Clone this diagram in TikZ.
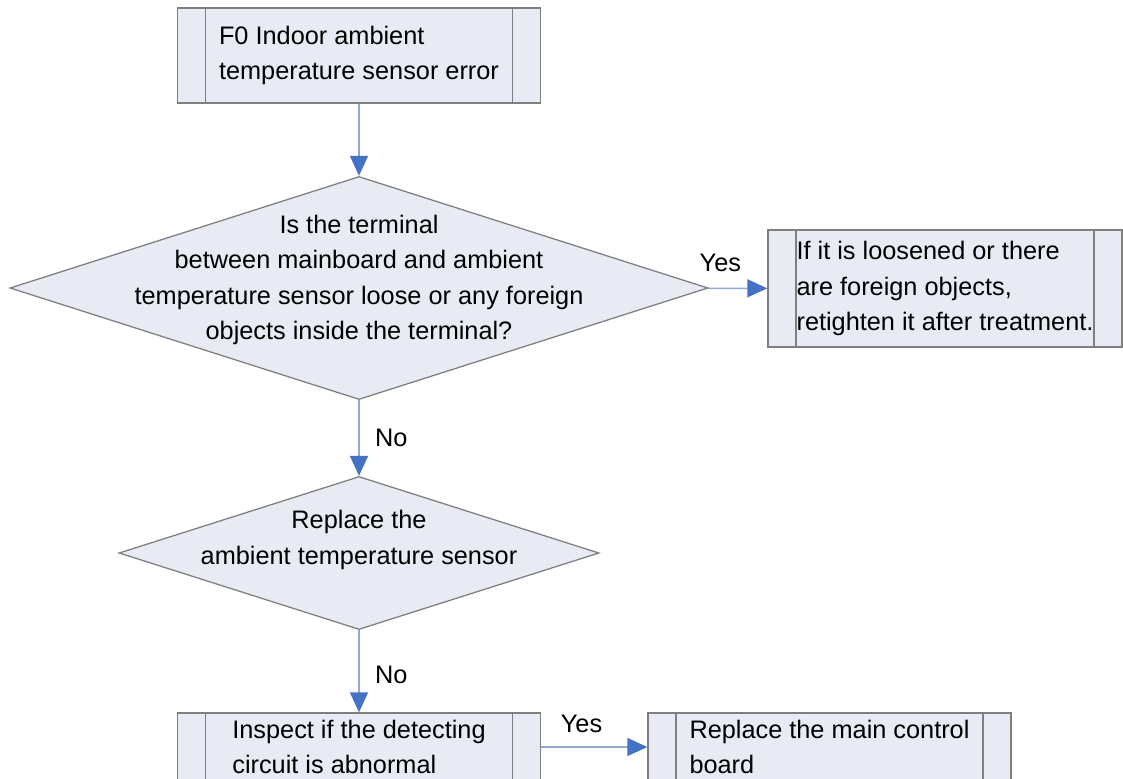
\documentclass[tikz,border=0pt]{standalone}
\usepackage{fontspec}
\setmainfont{Liberation Sans}
\usepackage{xcolor}
\definecolor{BoxFill}{HTML}{E8EBF4}
\definecolor{BoxLine}{HTML}{7F7F7F}
\definecolor{ArrowLine}{HTML}{8EA9D6}
\definecolor{ArrowHead}{HTML}{4472C4}
\usepackage{tikz}
\usetikzlibrary{shapes.geometric, arrows.meta, positioning}

\begin{document}
\begin{tikzpicture}[x=0.025cm, y=-0.025cm,
  txt/.style={font=\fontsize{18}{25.2}\selectfont},
  proc/.style={txt, rectangle, draw=BoxLine, line width=0.9pt, fill=BoxFill,
               minimum width=9.075cm, minimum height=2.375cm, align=left,
               path picture={\draw[BoxLine, line width=0.9pt]
                 ([xshift=0.7cm]path picture bounding box.north west) --
                 ([xshift=0.7cm]path picture bounding box.south west)
                 ([xshift=-0.7cm]path picture bounding box.north east) --
                 ([xshift=-0.7cm]path picture bounding box.south east);}},
  dec/.style={diamond, draw=BoxLine, line width=0.9pt, fill=BoxFill, inner sep=0pt},
  dtxt/.style={txt, align=center, inner sep=0pt},
  arr/.style={draw=ArrowLine, line width=1pt,
              -{Triangle[length=0.5cm, width=0.45cm, color=ArrowHead]}},
  lbl/.style={txt, inner sep=1pt}
]
\useasboundingbox (0,0) rectangle (1123,778);
\clip (0,0) rectangle (1123,778);

%% ---- Main column ----
\node[proc]  (fault)   at (359, 55.5) {F0 Indoor ambient\\temperature sensor error};
\node[dec, minimum width=17.45cm, minimum height=5.575cm,
      label={[dtxt, yshift=0.2cm]center:{Is the terminal\\between mainboard and ambient\\temperature sensor loose or any foreign\\objects inside the terminal?}}]
      (terminal) at (359, 288) {};
\node[dec, minimum width=12cm, minimum height=3.825cm,
      label={[dtxt, yshift=0.33cm]center:{Replace the\\ambient temperature sensor}}]
      (sensor)   at (359, 553) {};
\node[proc, minimum height=1.7cm] (inspect) at (359, 747) {Inspect if the detecting\\circuit is abnormal};

%% ---- Right side boxes ----
\node[proc, minimum width=8.85cm, minimum height=2.925cm]
      (retighten) at (945, 288.5) {If it is loosened or there\\are foreign objects,\\retighten it after treatment.};
\node[proc, minimum height=1.7cm] (board) at (829.5, 747) {Replace the main control\\board};

%% ---- Arrows ----
\draw[arr] (fault) -- (terminal);
\draw[arr] (terminal) -- node[lbl, above=0.35cm, pos=0.21]{Yes} (retighten);
\draw[arr] (terminal) -- node[lbl, right=0.35cm, pos=0.5]{No} (sensor);
\draw[arr] (sensor) -- node[lbl, right=0.35cm, pos=0.55]{No} (inspect);
\draw[arr] (inspect) -- node[lbl, above=0.3cm, pos=0.38]{Yes} (board);

\end{tikzpicture}
\end{document}
